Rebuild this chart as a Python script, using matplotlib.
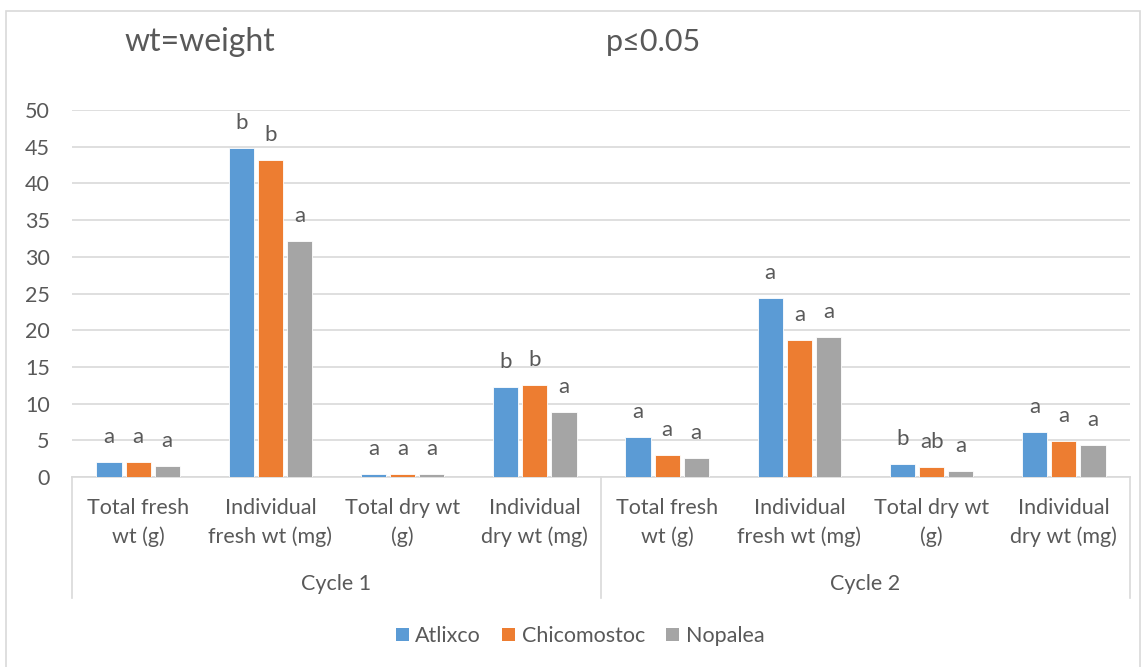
import matplotlib.pyplot as plt
import numpy as np
from matplotlib.patches import Patch, Rectangle

# measurements per cycle, grouped bars per site
cycles = ['Cycle 1', 'Cycle 2']
measures = ['Total fresh\nwt (g)', 'Individual\nfresh wt (mg)',
            'Total dry wt\n(g)', 'Individual\ndry wt (mg)']
series = ['Atlixco', 'Chicomostoc', 'Nopalea']

atlixco = [2.1, 44.8, 0.45, 12.2, 5.4, 24.4, 1.75, 6.1]
chicomostoc = [2.0, 43.2, 0.45, 12.5, 3.05, 18.7, 1.3, 4.95]
nopalea = [1.5, 32.1, 0.35, 8.8, 2.6, 19.1, 0.8, 4.4]

atlixco_sig = ['a', 'b', 'a', 'b', 'a', 'a', 'b', 'a']
chicomostoc_sig = ['a', 'b', 'a', 'b', 'a', 'a', 'ab', 'a']
nopalea_sig = ['a', 'a', 'a', 'a', 'a', 'a', 'a', 'a']

colors = ['#5B9BD5', '#ED7D31', '#A5A5A5']
text_color = '#595959'
line_color = '#D9D9D9'

plt.rcParams['font.family'] = ['Lato', 'DejaVu Sans']

fig = plt.figure(figsize=(11.42, 6.67), dpi=100)
ax = fig.add_axes([72 / 1142, 1 - 477 / 667, (1130 - 72) / 1142, 367 / 667])

# chart border
fig.patches.append(Rectangle((6 / 1142, -0.01), 1134 / 1142, 1 - 11 / 667 + 0.01,
                             transform=fig.transFigure, fill=False,
                             edgecolor=line_color, linewidth=1.2))

n_cat = len(cycles) * len(measures)
x = np.arange(n_cat)
values = [atlixco, chicomostoc, nopalea]
letters = [atlixco_sig, chicomostoc_sig, nopalea_sig]
pitch = 0.22
width = 0.19

for i, (vals, sig) in enumerate(zip(values, letters)):
    pos = x + (i - 1) * pitch
    ax.bar(pos, vals, width=width, color=colors[i], edgecolor='white',
           linewidth=0.6, zorder=3)
    for xp, v, s in zip(pos, vals, sig):
        ax.annotate(s, (xp, v), xytext=(0, 18), textcoords='offset points',
                    ha='center', va='center', fontsize=16, color=text_color)

ax.set_xlim(-0.5, n_cat - 0.5)
ax.set_ylim(0, 50)
ax.set_yticks(np.arange(0, 51, 5))
ax.yaxis.grid(True, color=line_color, linewidth=1.2, zorder=0)
ax.tick_params(axis='y', length=0, pad=16, labelsize=15.5, labelcolor=text_color)
ax.set_xticks([])
for side in ['top', 'right', 'left']:
    ax.spines[side].set_visible(False)
ax.spines['bottom'].set_color(line_color)
ax.spines['bottom'].set_linewidth(1.2)

# two-level category axis
trans = ax.get_xaxis_transform()
for j in range(n_cat):
    ax.text(x[j], -0.125, measures[j % len(measures)], transform=trans,
            ha='center', va='center', fontsize=15.5, color=text_color,
            linespacing=1.5)
for k, c in enumerate(cycles):
    mid = k * len(measures) + (len(measures) - 1) / 2
    ax.text(mid, -0.292, c, transform=trans, ha='center', va='center',
            fontsize=15.5, color=text_color)
for b in np.arange(-0.5, n_cat, len(measures)):
    ax.plot([b, b], [0, -0.33], transform=trans, color=line_color,
            linewidth=1.2, clip_on=False)

fig.text(200 / 1142, 1 - 42 / 667, 'wt=weight', ha='center', va='center',
         fontsize=23, color=text_color)
fig.text(653 / 1142, 1 - 42 / 667, 'p≤0.05', ha='center', va='center',
         fontsize=22, color=text_color)

handles = [Patch(facecolor=c, label=s) for c, s in zip(colors, series)]
fig.legend(handles=handles, loc='center', bbox_to_anchor=(580 / 1142, 1 - 636 / 667),
           ncol=3, frameon=False, fontsize=15.5, labelcolor=text_color,
           handlelength=0.6, handleheight=0.6, handletextpad=0.3,
           columnspacing=1.0)

fig.savefig('out.png', dpi=100)
